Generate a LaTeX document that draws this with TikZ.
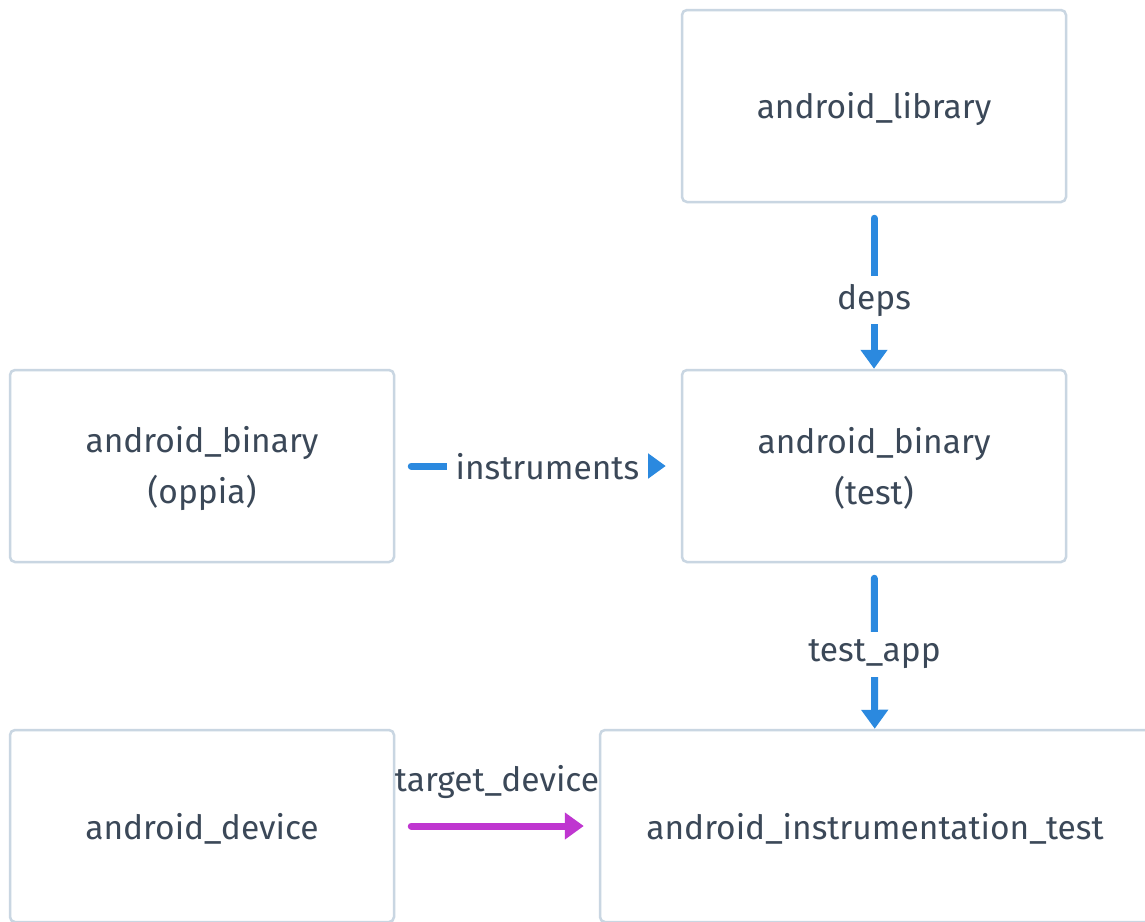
\documentclass[tikz,border=0pt]{standalone}
\usepackage{fontspec}
\setmainfont{Fira Sans}
\usetikzlibrary{arrows.meta}
\definecolor{boxline}{HTML}{C9D6E2}
\definecolor{txt}{HTML}{3B4858}
\definecolor{arrblue}{HTML}{2B89DF}
\definecolor{arrpurple}{HTML}{BF36D0}
\tikzset{
  x=1pt,y=-1pt,
  box/.style={draw=boxline, line width=2.5pt, rounded corners=5pt, fill=white,
    minimum width=384pt, minimum height=192pt, inner sep=0pt},
  boxtext/.style={text=txt, align=center, font=\fontsize{33.5}{51}\selectfont,
    inner sep=0pt, yshift=-2.5pt},
  conn/.style={line width=7pt, line cap=round, -{Triangle[length=19pt,width=26pt]}},
  blueconn/.style={conn, draw=arrblue, fill=arrblue},
  purpleconn/.style={conn, draw=arrpurple, fill=arrpurple},
  lbl/.style={text=txt, font=\fontsize{33.5}{38}\selectfont, inner sep=0pt},
  lblbg/.style={lbl, fill=white, inner xsep=9pt, inner ysep=8pt},
}
\begin{document}
\begin{tikzpicture}
\useasboundingbox (0,0) rectangle (1145,921);
\clip (0,0) rectangle (1145,921);
\fill[white] (0,0) rectangle (1145,921);
\node[box, label={[boxtext]center:android\_library}] (lib) at (874,106) {};
\node[box, label={[boxtext]center:android\_binary\\(oppia)}] (oppia) at (202,466) {};
\node[box, label={[boxtext]center:android\_binary\\(test)}] (test) at (874,466) {};
\node[box, label={[boxtext]center:android\_device}] (device) at (202,826) {};
\node[box, minimum width=550pt, label={[boxtext]center:android\_instrumentation\_test}] (instr) at (875,826) {};
\draw[blueconn, shorten <=15pt] (lib) -- node[lblbg, pos=0.585] {deps} (test);
\draw[blueconn, shorten <=16pt, shorten >=15pt] (oppia) -- node[lblbg, pos=0.533, yshift=-1pt] {instruments} (test);
\draw[blueconn, shorten <=15pt] (test) -- node[lblbg, pos=0.55] {test\_app} (instr);
\draw[purpleconn, shorten <=16pt, shorten >=15pt] (device) -- node[lbl, pos=0.5, yshift=44pt] {target\_device} (instr);
\end{tikzpicture}
\end{document}
